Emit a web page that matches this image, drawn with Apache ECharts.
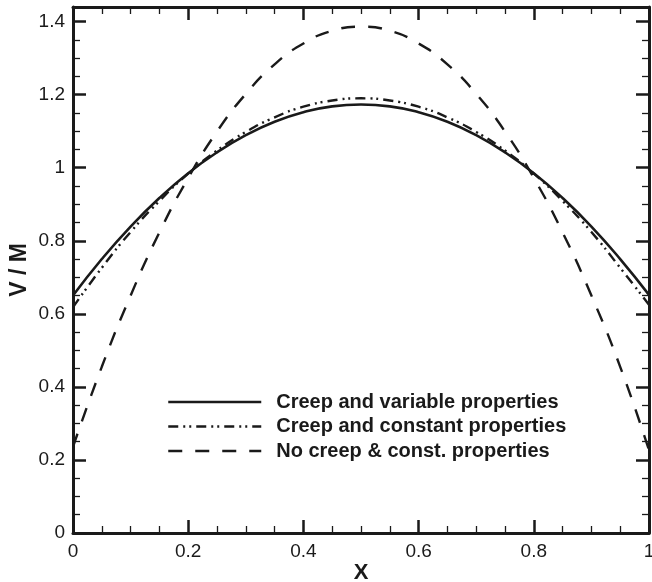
<!DOCTYPE html>
<html>
<head>
<meta charset="utf-8">
<script src="https://cdn.jsdelivr.net/npm/echarts@6/dist/echarts.min.js"></script>
<style>
  html, body { margin: 0; padding: 0; background: #fff; }
  #chart { width: 652px; height: 582px; }
</style>
</head>
<body>
<div id="chart"></div>
<script>
// Position along the span
const xs = [0, 0.05, 0.1, 0.15, 0.2, 0.25, 0.3, 0.35, 0.4, 0.45, 0.5,
            0.55, 0.6, 0.65, 0.7, 0.75, 0.8, 0.85, 0.9, 0.95, 1];

// V / M for each case
const creepVariable = [0.650, 0.750, 0.839, 0.917, 0.985, 1.042, 1.089, 1.126, 1.152, 1.168, 1.173,
                       1.168, 1.152, 1.126, 1.089, 1.042, 0.985, 0.917, 0.839, 0.750, 0.652];
const creepConstant = [0.618, 0.726, 0.824, 0.909, 0.984, 1.047, 1.098, 1.138, 1.167, 1.184, 1.190,
                       1.184, 1.167, 1.138, 1.098, 1.047, 0.984, 0.909, 0.824, 0.726, 0.625];
const noCreep       = [0.236, 0.455, 0.650, 0.823, 0.972, 1.099, 1.202, 1.283, 1.340, 1.375, 1.386,
                       1.375, 1.340, 1.283, 1.202, 1.099, 0.972, 0.823, 0.650, 0.455, 0.227];

const seriesNames = ['Creep and variable properties', 'Creep and constant properties', 'No creep & const. properties'];
const xTicks = [0, 0.2, 0.4, 0.6, 0.8, 1];
const yTicks = [0, 0.2, 0.4, 0.6, 0.8, 1, 1.2, 1.4];

const FONT = '"Liberation Sans", Arial, Helvetica, sans-serif';
const INK = '#1a1a1a';

function pairs(ys) { return xs.map((x, i) => [x, ys[i]]); }
function fmt(v, list) {
  const hit = list.find(t => Math.abs(t - v) < 1e-9);
  return hit === undefined ? '' : String(+hit.toFixed(2));
}

const tickCommon = {
  axisLine: { show: true, onZero: false, lineStyle: { color: INK, width: 3 } },
  axisTick: { show: true, inside: true, length: 13, lineStyle: { color: INK, width: 2.5 } },
  minorTick: { show: true, splitNumber: 4, length: 7, lineStyle: { color: INK, width: 1.3 } },
  splitLine: { show: false },
  minorSplitLine: { show: false }
};

const chart = echarts.init(document.getElementById('chart'), null, { renderer: 'canvas' });
chart.setOption({
  animation: false,
  backgroundColor: '#fff',
  grid: { left: 73, right: 3, top: 7, bottom: 49, containLabel: false, outerBoundsMode: 'none' },
  legend: {
    show: true,
    orient: 'vertical',
    left: 162, top: 387,
    itemWidth: 93, itemHeight: 14, itemGap: 4.5,
    itemStyle: { opacity: 0 },
    lineStyle: { width: 2.5 },
    data: seriesNames,
    textStyle: { fontFamily: FONT, fontSize: 20, lineHeight: 20, fontWeight: 'bold', color: INK, padding: [0, 0, 0, 10] }
  },
  xAxis: [
    Object.assign({
      type: 'value', min: 0, max: 1, interval: 0.2, position: 'bottom',
      name: 'X', nameLocation: 'middle', nameGap: 29, nameMoveOverlap: false,
      nameTextStyle: { fontFamily: FONT, fontSize: 22, fontWeight: 'bold', color: INK },
      axisLabel: { fontFamily: FONT, fontSize: 19, color: INK, margin: 9, formatter: v => fmt(v, xTicks) }
    }, tickCommon),
    Object.assign({
      type: 'value', min: 0, max: 1, interval: 0.2, position: 'top',
      axisLabel: { show: false }
    }, tickCommon)
  ],
  yAxis: [
    Object.assign({
      type: 'value', min: 0, max: 1.44, interval: 0.2, position: 'left',
      name: 'V / M', nameLocation: 'middle', nameGap: 42, nameRotate: 90, nameMoveOverlap: false,
      nameTextStyle: { fontFamily: FONT, fontSize: 23, fontWeight: 'bold', color: INK },
      axisLabel: { fontFamily: FONT, fontSize: 19, color: INK, margin: 8, formatter: v => fmt(v, yTicks) }
    }, tickCommon),
    Object.assign({
      type: 'value', min: 0, max: 1.44, interval: 0.2, position: 'right',
      axisLabel: { show: false }
    }, tickCommon)
  ],
  series: [
    {
      name: seriesNames[0], type: 'line', smooth: true, symbol: 'none',
      data: pairs(creepVariable),
      lineStyle: { color: INK, width: 2.6, type: 'solid' },
      itemStyle: { color: INK }
    },
    {
      name: seriesNames[1], type: 'line', smooth: true, symbol: 'none',
      data: pairs(creepConstant),
      lineStyle: { color: INK, width: 2.4, type: [10, 5, 2, 4, 2, 5] },
      itemStyle: { color: INK }
    },
    {
      name: seriesNames[2], type: 'line', smooth: true, symbol: 'none',
      data: pairs(noCreep),
      lineStyle: { color: INK, width: 2.4, type: [14, 13] },
      itemStyle: { color: INK }
    }
  ]
});
</script>
</body>
</html>
